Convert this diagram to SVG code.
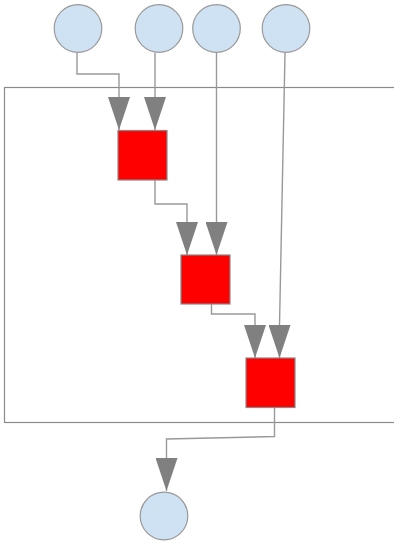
<svg xmlns="http://www.w3.org/2000/svg" width="394" height="547" viewBox="0 0 394 547">
<defs>
<style>
.c{fill:#cfe2f3;stroke:#999;stroke-width:1.2}
.b{fill:#ff0000;stroke:#888;stroke-width:1.2}
.l{fill:none;stroke:#999;stroke-width:1.4}
.frame{fill:none;stroke:#8a8a8a;stroke-width:1.2}
</style>
<marker id="ah" markerUnits="userSpaceOnUse" markerWidth="33" markerHeight="22" refX="33" refY="11" orient="auto" viewBox="0 0 33 22">
<path d="M0,0 L33,11 L0,22 z" fill="#808080"/>
</marker>
</defs>
<rect class="frame" x="4.5" y="87.5" width="400" height="335"/>
<g id="connectors">
<path class="l" marker-end="url(#ah)" d="M77,53 V74 H119 V130"/>
<path class="l" marker-end="url(#ah)" d="M155,53 V130"/>
<path class="l" marker-end="url(#ah)" d="M216.5,53 V255"/>
<path class="l" marker-end="url(#ah)" d="M155,180 V204 H187 V255"/>
<path class="l" marker-end="url(#ah)" d="M285,53 L279.5,325 V358"/>
<path class="l" marker-end="url(#ah)" d="M211.5,304 V314 H255 V358"/>
<path class="l" marker-end="url(#ah)" d="M274.5,408 V436.5 L166.5,439 V491"/>
</g>
<g id="in1"><circle class="c" cx="78" cy="28.5" r="23.8"/></g>
<g id="in2"><circle class="c" cx="159" cy="28.5" r="23.8"/></g>
<g id="in3"><circle class="c" cx="216.5" cy="28.5" r="23.8"/></g>
<g id="in4"><circle class="c" cx="286" cy="28.5" r="23.8"/></g>
<g id="op1"><rect class="b" x="118" y="130.5" width="49" height="49.5"/></g>
<g id="op2"><rect class="b" x="181" y="255" width="49" height="49"/></g>
<g id="op3"><rect class="b" x="246" y="358" width="49" height="49.5"/></g>
<g id="out"><circle class="c" cx="164" cy="516" r="23.8"/></g>
</svg>
